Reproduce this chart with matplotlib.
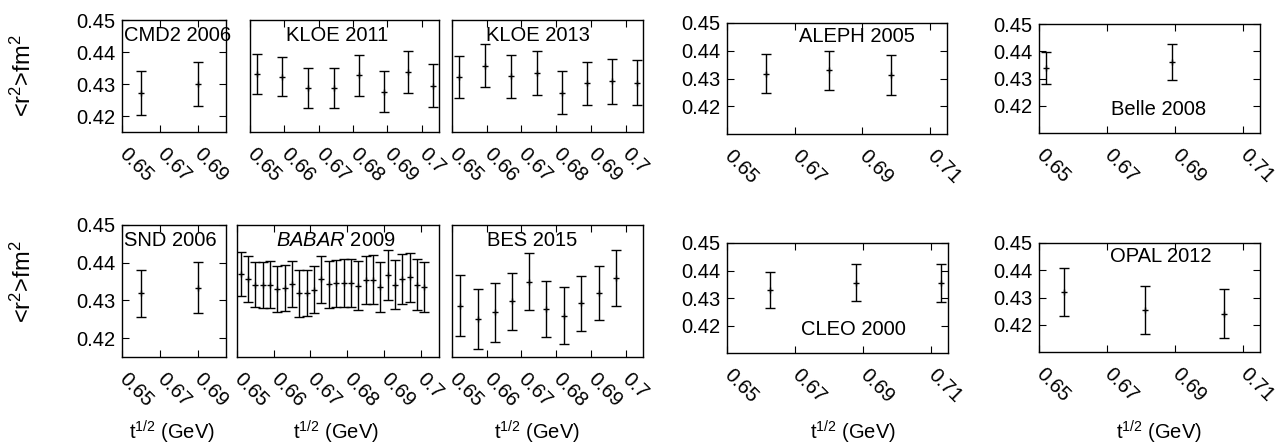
import numpy as np
import matplotlib
matplotlib.use('Agg')
import matplotlib.pyplot as plt

plt.rcParams['font.family'] = ['Liberation Sans', 'DejaVu Sans']
plt.rcParams['mathtext.fontset'] = 'custom'
plt.rcParams['mathtext.rm'] = 'Liberation Sans'
plt.rcParams['mathtext.it'] = 'Liberation Sans:italic'

# data: sqrt(t) in GeV, <r^2> in fm^2, error
cmd2_x = [0.660, 0.690]
cmd2_y = [0.4271, 0.4299]
cmd2_e = [0.0069, 0.0069]

kloe_x = [0.6519, 0.6594, 0.6670, 0.6744, 0.6818, 0.6889, 0.6961, 0.7033]
kloe11_y = [0.4331, 0.4323, 0.4287, 0.4288, 0.4328, 0.4276, 0.4337, 0.4295]
kloe11_e = [0.0063, 0.0061, 0.0063, 0.0063, 0.0064, 0.0064, 0.0065, 0.0068]
kloe13_y = [0.4323, 0.4357, 0.4324, 0.4334, 0.4273, 0.4302, 0.4308, 0.4304]
kloe13_e = [0.0066, 0.0067, 0.0067, 0.0068, 0.0068, 0.0068, 0.0070, 0.0070]

aleph_x = [0.6616, 0.6800, 0.6984]
aleph_y = [0.4317, 0.4329, 0.4312]
aleph_e = [0.0070, 0.0069, 0.0071]

belle_x = [0.652, 0.6891]
belle_y = [0.4339, 0.4362]
belle_e = [0.0060, 0.0066]

snd_x = [0.660, 0.690]
snd_y = [0.4319, 0.4334]
snd_e = [0.0063, 0.0067]

babar_x = [0.651, 0.653, 0.655, 0.657, 0.659, 0.661, 0.663, 0.665, 0.667,
           0.669, 0.671, 0.673, 0.675, 0.677, 0.679, 0.681, 0.683, 0.685,
           0.687, 0.689, 0.691, 0.693, 0.695, 0.697, 0.699, 0.701]
babar_y = [0.4370, 0.4356, 0.4342, 0.4342, 0.4342, 0.4329, 0.4334, 0.4344,
           0.4319, 0.4320, 0.4328, 0.4356, 0.4343, 0.4345, 0.4346, 0.4346,
           0.4339, 0.4355, 0.4355, 0.4336, 0.4367, 0.4342, 0.4356, 0.4361,
           0.4342, 0.4336]
babar_e = [0.0059, 0.0061, 0.0060, 0.0061, 0.0062, 0.0061, 0.0061, 0.0061,
           0.0062, 0.0062, 0.0062, 0.0062, 0.0062, 0.0063, 0.0063, 0.0064,
           0.0065, 0.0064, 0.0065, 0.0066, 0.0066, 0.0065, 0.0066, 0.0066,
           0.0068, 0.0067]

bes_x = [0.6524, 0.6575, 0.6624, 0.6673, 0.6722, 0.6772, 0.6822, 0.6872, 0.6922, 0.6972]
bes_y = [0.4286, 0.4250, 0.4269, 0.4298, 0.4350, 0.4277, 0.4260, 0.4293, 0.4320, 0.4360]
bes_e = [0.0081, 0.0080, 0.0078, 0.0076, 0.0076, 0.0074, 0.0075, 0.0073, 0.0072, 0.0074]

cleo_x = [0.6626, 0.6878, 0.7128]
cleo_y = [0.4328, 0.4356, 0.4353]
cleo_e = [0.0065, 0.0066, 0.0069]

opal_x = [0.6574, 0.6813, 0.7044]
opal_y = [0.4321, 0.4254, 0.4241]
opal_e = [0.0089, 0.0089, 0.0091]

ticks_narrow = [0.65, 0.67, 0.69]
ticks_fine = [0.65, 0.66, 0.67, 0.68, 0.69, 0.70]
labels_fine = ['0.65', '0.66', '0.67', '0.68', '0.69', '0.7']
ticks_wide = [0.65, 0.67, 0.69, 0.71]
yticks = [0.42, 0.43, 0.44, 0.45]

W, H = 1287, 445
fig = plt.figure(figsize=(W / 100, H / 100), dpi=100)
FS = 14.5


def box(l, r, t, b):
    return fig.add_axes([l / W, 1 - b / H, (r - l) / W, (b - t) / H])


def panel(ax, x, y, e, xlim, ylim, xt, xtl, ylab, yticks_on, label, lx, ly):
    ax.errorbar(x, y, yerr=e, fmt='+', color='k', ms=5, mew=1.0,
                elinewidth=1.0, capsize=3.5, capthick=1.0)
    ax.set_xlim(*xlim)
    ax.set_ylim(*ylim)
    ax.set_xticks(xt)
    ax.set_xticklabels(xtl, rotation=-45, ha='left', va='center',
                       rotation_mode='anchor', fontsize=FS)
    ax.tick_params(axis='x', direction='in', top=True, length=5, width=0.8, pad=14)
    if yticks_on:
        ax.set_yticks(yticks)
        ax.tick_params(axis='y', direction='in', right=True, length=5, width=0.8, pad=5)
        if ylab:
            ax.set_yticklabels(['0.42', '0.43', '0.44', '0.45'], fontsize=FS)
    else:
        ax.set_yticks([])
    for s in ax.spines.values():
        s.set_linewidth(1.0)
    ax.text(lx, ly, label, transform=ax.transAxes, ha='center', va='center',
            fontsize=FS)


xl = (0.65, 0.705)
xw = (0.65, 0.715)
yl = (0.415, 0.45)
yw = (0.41, 0.45)

# top row
panel(box(122, 226, 20, 132), cmd2_x, cmd2_y, cmd2_e, xl, yl, ticks_narrow,
      ['0.65', '0.67', '0.69'], True, True, 'CMD2 2006', 0.53, 0.86)
panel(box(250, 439, 20, 132), kloe_x, kloe11_y, kloe11_e, xl, yl, ticks_fine,
      labels_fine, False, False, 'KLOE 2011', 0.46, 0.86)
panel(box(452, 643, 20, 132), kloe_x, kloe13_y, kloe13_e, xl, yl, ticks_fine,
      labels_fine, False, False, 'KLOE 2013', 0.45, 0.86)
panel(box(727, 947, 23, 134), aleph_x, aleph_y, aleph_e, xw, yw, ticks_wide,
      ['0.65', '0.67', '0.69', '0.71'], True, True, 'ALEPH 2005', 0.59, 0.88)
panel(box(1039, 1260, 24, 133), belle_x, belle_y, belle_e, xw, yw, ticks_wide,
      ['0.65', '0.67', '0.69', '0.71'], True, True, 'Belle 2008', 0.54, 0.22)

# bottom row
panel(box(122, 226, 225, 357), snd_x, snd_y, snd_e, xl, yl, ticks_narrow,
      ['0.65', '0.67', '0.69'], True, True, 'SND 2006', 0.46, 0.88)
panel(box(237, 439, 225, 357), babar_x, babar_y, babar_e, xl, yl, ticks_fine,
      labels_fine, False, False, r'$\mathit{BABAR}$ 2009', 0.49, 0.88)
panel(box(452, 643, 225, 357), bes_x, bes_y, bes_e, xl, yl, ticks_fine,
      labels_fine, False, False, 'BES 2015', 0.42, 0.88)
panel(box(727, 948, 243, 353), cleo_x, cleo_y, cleo_e, xw, yw, ticks_wide,
      ['0.65', '0.67', '0.69', '0.71'], True, True, 'CLEO 2000', 0.57, 0.21)
panel(box(1039, 1260, 243, 352), opal_x, opal_y, opal_e, xw, yw, ticks_wide,
      ['0.65', '0.67', '0.69', '0.71'], True, True, 'OPAL 2012', 0.55, 0.88)

for yc in (76, 282):
    fig.text(23 / W, 1 - yc / H, r'<r$^2$>fm$^2$', rotation=90, ha='center',
             va='center', fontsize=17)
for xc in (172, 336, 537, 853, 1159):
    fig.text(xc / W, 1 - 432 / H, r't$^{1/2}$ (GeV)', ha='center',
             va='center', fontsize=FS)

fig.savefig('out.png', dpi=100)
